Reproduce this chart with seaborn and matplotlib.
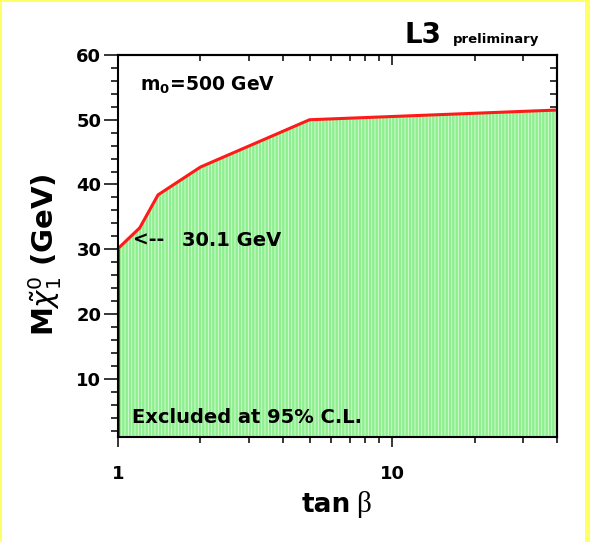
import matplotlib
matplotlib.use("Agg")
import matplotlib.pyplot as plt
from matplotlib.patches import Rectangle
from matplotlib.ticker import FixedLocator, NullFormatter, FixedFormatter, MultipleLocator
import numpy as np
import pandas as pd
import seaborn as sns

# Excluded region boundary: lightest neutralino mass limit vs tan(beta)
tan_beta = [1.0, 1.2, 1.4, 2.0, 5.0, 40.0]
m_chi = [30.1, 33.3, 38.4, 42.7, 50.0, 51.5]

x_major = [1, 10]
x_major_labels = ["1", "10"]
x_minor = [2, 3, 4, 5, 6, 7, 8, 9, 20, 30, 40]
y_major = [10, 20, 30, 40, 50, 60]

x_range = (1, 40)
y_range = (1, 60)

sns.set_style("ticks")
plt.rcParams["font.family"] = ["DejaVu Sans"]
plt.rcParams["font.weight"] = "bold"
plt.rcParams["text.color"] = "black"
plt.rcParams["axes.labelcolor"] = "black"
plt.rcParams["xtick.color"] = "black"
plt.rcParams["ytick.color"] = "black"
plt.rcParams["mathtext.fontset"] = "custom"
plt.rcParams["mathtext.rm"] = "DejaVu Sans:normal"
plt.rcParams["mathtext.it"] = "DejaVu Sans:italic:normal"
plt.rcParams["mathtext.bf"] = "DejaVu Sans:bold"
plt.rcParams["hatch.linewidth"] = 0.6

fig = plt.figure(figsize=(5.90, 5.42), dpi=100)
fig.patch.set_facecolor("#ffff66")
fig.patches.append(Rectangle((2 / 590, 0), 583 / 590, 1 - 2 / 542,
                             transform=fig.transFigure, facecolor="white",
                             edgecolor="none", zorder=-5))

ax = fig.add_axes([118 / 590, 1 - 437 / 542, 439 / 590, 382 / 542])
ax.set_zorder(2)
ax.set_xscale("log")
ax.set_xlim(*x_range)
ax.set_ylim(*y_range)

df = pd.DataFrame({"tan_beta": tan_beta, "m_chi": m_chi})

ax.fill_between(df["tan_beta"], y_range[0], df["m_chi"], facecolor="#8eef8e",
                edgecolor="#dcfcdc", hatch="|||||", linewidth=0, zorder=1)
sns.lineplot(data=df, x="tan_beta", y="m_chi", color="#ff1a1a", linewidth=2.2,
             sort=False, ax=ax, zorder=3)
ax.vlines([tan_beta[0], tan_beta[-1]], y_range[0], [m_chi[0], m_chi[-1]],
          color="#ff1a1a", linewidth=2.2, zorder=3)

# axis ticks: outward on bottom/left, inward on top/right
ax.xaxis.set_major_locator(FixedLocator(x_major))
ax.xaxis.set_major_formatter(FixedFormatter(x_major_labels))
ax.xaxis.set_minor_locator(FixedLocator(x_minor))
ax.xaxis.set_minor_formatter(NullFormatter())
ax.yaxis.set_major_locator(FixedLocator(y_major))
ax.yaxis.set_minor_locator(MultipleLocator(2))
ax.tick_params(axis="both", which="both", direction="out", width=1.1,
               colors="black", labelsize=13)
ax.tick_params(axis="y", which="major", length=10, pad=2)
ax.tick_params(axis="y", which="minor", length=5)
ax.tick_params(axis="x", which="major", length=7, pad=13)
ax.tick_params(axis="x", which="minor", length=4)
for lab in ax.get_xticklabels() + ax.get_yticklabels():
    lab.set_fontweight("bold")

top = ax.secondary_xaxis("top")
top.xaxis.set_major_locator(FixedLocator(x_major))
top.xaxis.set_minor_locator(FixedLocator(x_minor))
top.xaxis.set_major_formatter(NullFormatter())
top.xaxis.set_minor_formatter(NullFormatter())
top.tick_params(which="major", direction="in", length=7, width=1.1)
top.tick_params(which="minor", direction="in", length=4, width=1.1)

right = ax.secondary_yaxis("right")
right.yaxis.set_major_locator(FixedLocator(y_major))
right.yaxis.set_minor_locator(MultipleLocator(2))
right.yaxis.set_major_formatter(NullFormatter())
right.yaxis.set_minor_formatter(NullFormatter())
right.tick_params(which="major", direction="in", length=10, width=1.1)
right.tick_params(which="minor", direction="in", length=5, width=1.1)

for s in list(ax.spines.values()) + [top.spines["top"], right.spines["right"]]:
    s.set_linewidth(1.5)
    s.set_color("black")
    s.set_zorder(4)
    s.set_visible(True)

ax.set_xlabel("")
ax.set_ylabel("")

# axis titles
fig.text(302 / 590, 1 - 512 / 542, "tan", ha="left", va="baseline",
         fontsize=19, fontweight="bold")
fig.text(356 / 590, 1 - 512 / 542, "β", ha="left", va="baseline",
         fontsize=21, fontweight="normal", family="Liberation Serif")
fig.text(0.076, 0.53, r"M$\tilde{\chi}_1^0$ (GeV)", ha="center", va="center",
         rotation=90, fontsize=21, fontweight="bold")

ax.text(0.05, 0.92, r"m$_\mathbf{0}$=500 GeV", transform=ax.transAxes,
        ha="left", va="center", fontsize=13.5, fontweight="bold")
ax.text(0.034, 0.515, "<--", transform=ax.transAxes, ha="left", va="center",
        fontsize=13.5, fontweight="bold")
ax.text(0.146, 0.515, "30.1 GeV", transform=ax.transAxes, ha="left",
        va="center", fontsize=14, fontweight="bold")
ax.text(0.032, 0.05, "Excluded at 95% C.L.", transform=ax.transAxes,
        ha="left", va="center", fontsize=14, fontweight="bold", zorder=5)

fig.text(0.686, 0.935, "L3", ha="left", va="center", fontsize=20,
         fontweight="bold")
fig.text(0.768, 0.921, "preliminary", ha="left", va="baseline", fontsize=9.5,
         fontweight="bold")

fig.savefig("out.png", dpi=100, facecolor=fig.get_facecolor())
